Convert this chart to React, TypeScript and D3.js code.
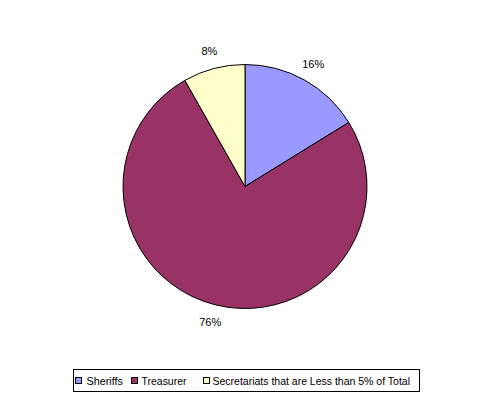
import React from "react";
import * as d3 from "d3";

const categories = ["Sheriffs", "Treasurer", "Secretariats that are Less than 5% of Total"];
const values = [16.2, 75.6, 8.2];
const labels = ["16%", "76%", "8%"];
const colors = ["#9999FF", "#993366", "#FFFFCC"];

const W = 491;
const H = 400;

export default function App() {
  const cx = 245;
  const cy = 186.5;
  const r = 122;
  const pie = d3.pie<number>().sort(null).value((d) => d);
  const arcs = pie(values);
  const arc = d3.arc<d3.PieArcDatum<number>>().innerRadius(0).outerRadius(r);
  const labelArc = d3.arc<d3.PieArcDatum<number>>().innerRadius(140).outerRadius(140);

  const legendItems = [
    { sq: 75, tx: 86.5, len: 36.5 },
    { sq: 131, tx: 141.5, len: 45 },
    { sq: 203, tx: 212.5, len: 197.5 },
  ];

  return (
    <svg
      width={W}
      height={H}
      style={{ position: "absolute", left: 0, top: 0, background: "#fff" }}
      fontFamily="Liberation Sans, Arial, sans-serif"
    >
      <rect x={0} y={0} width={W} height={H} fill="#fff" />
      <g transform={`translate(${cx},${cy})`}>
        {arcs.map((a, i) => (
          <path key={i} d={arc(a) || ""} fill={colors[i]} stroke="#000" strokeWidth={1} />
        ))}
        {arcs.map((a, i) => {
          const [x, y] = labelArc.centroid(a);
          return (
            <text key={i} x={x} y={y} textAnchor="middle" dominantBaseline="central" fontSize={11} fill="#000">
              {labels[i]}
            </text>
          );
        })}
      </g>
      <rect x={73.5} y={369.5} width={346} height={22} fill="#fff" stroke="#000" strokeWidth={1} />
      {categories.map((c, i) => (
        <g key={i}>
          <rect x={legendItems[i].sq + 0.5} y={377.5} width={6} height={6} fill={colors[i]} stroke="#000" strokeWidth={1} />
          <text
            x={legendItems[i].tx}
            y={384.5}
            fontSize={11}
            fill="#000"
            textLength={legendItems[i].len}
            lengthAdjust="spacingAndGlyphs"
          >
            {c}
          </text>
        </g>
      ))}
    </svg>
  );
}
